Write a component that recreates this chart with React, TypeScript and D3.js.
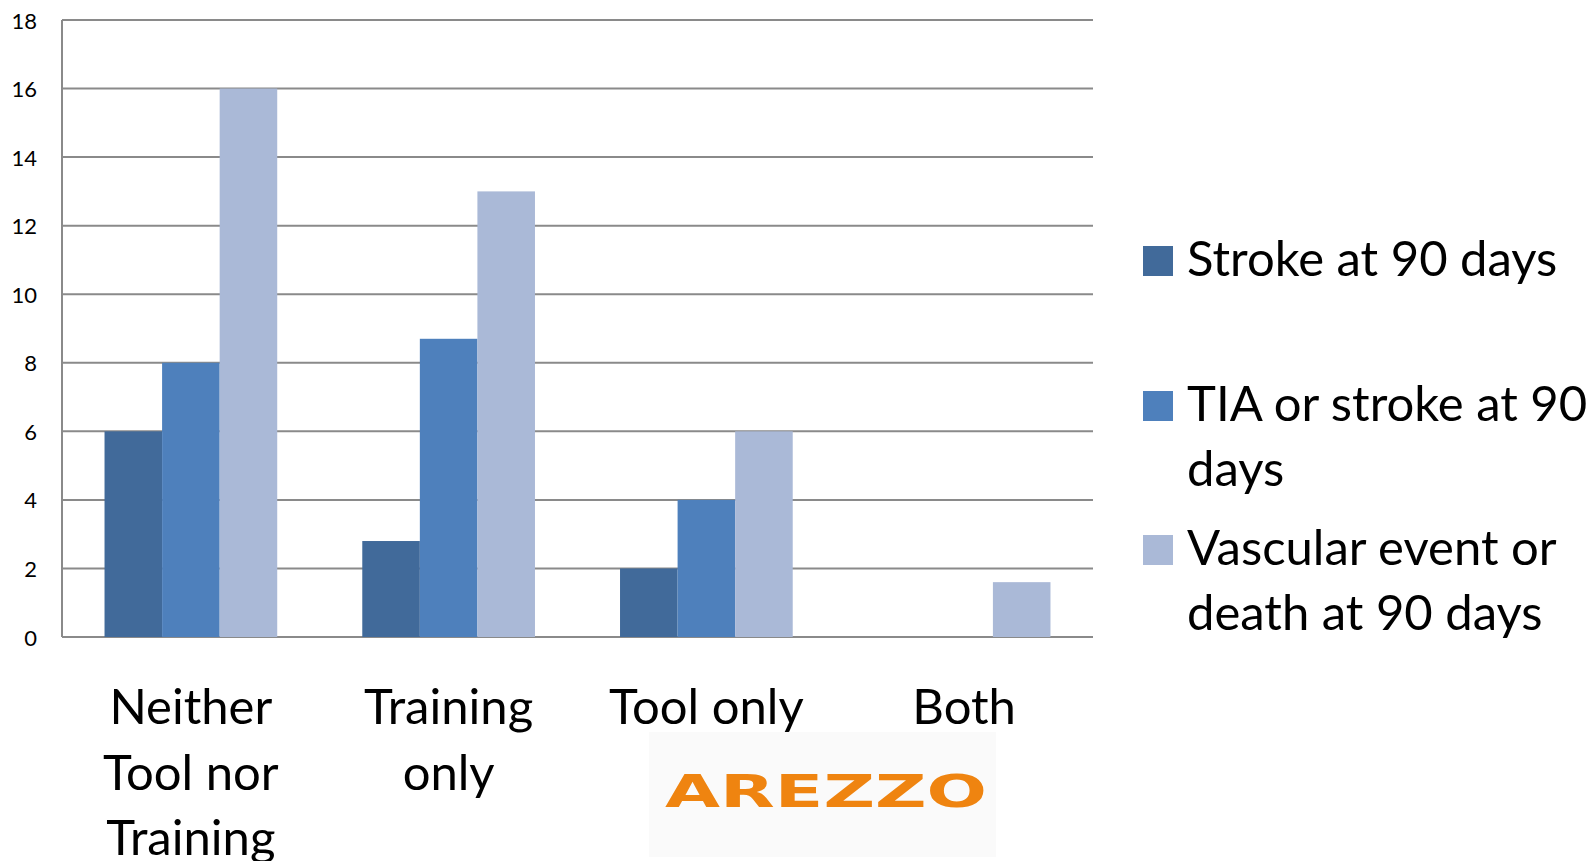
import * as d3 from 'd3'

const categories = [
  ['Neither', 'Tool nor', 'Training'],
  ['Training', 'only'],
  ['Tool only'],
  ['Both'],
]
const seriesNames = [
  ['Stroke at 90 days'],
  ['TIA or stroke at 90', 'days'],
  ['Vascular event or', 'death at 90 days'],
]
const strokeValues = [6, 2.8, 2, 0]
const tiaValues = [8, 8.7, 4, 0]
const vascularValues = [16, 13, 6, 1.6]
const yTicks = [0, 2, 4, 6, 8, 10, 12, 14, 16, 18]

const colors = ['#416a9a', '#4e80bc', '#aab9d7']
const font = 'Lato, "Open Sans", sans-serif'

export default function App() {
  const width = 1590
  const height = 861
  const left = 62
  const right = 1093
  const top = 20
  const bottom = 637

  const series = [strokeValues, tiaValues, vascularValues]
  const catKeys = categories.map((c) => c.join(' '))

  const x0 = d3.scaleBand<string>()
    .domain(catKeys)
    .range([left, right])
    .paddingInner(0.33)
    .paddingOuter(0.165)

  const x1 = d3.scaleBand<number>()
    .domain([0, 1, 2])
    .range([0, x0.bandwidth()])

  const y = d3.scaleLinear().domain([0, 18]).range([bottom, top])

  return (
    <svg
      width={width}
      height={height}
      style={{ position: 'absolute', left: 0, top: 0, background: '#fff' }}
      fontFamily={font}
    >
      {/* gridlines */}
      {yTicks.map((t) => (
        <line key={t} x1={left} x2={right} y1={y(t)} y2={y(t)} stroke="#8a8a8a" strokeWidth={2} />
      ))}
      <line x1={left} x2={left} y1={top} y2={bottom} stroke="#8a8a8a" strokeWidth={2} />

      {/* y tick labels */}
      {yTicks.map((t) => (
        <text key={t} x={37} y={y(t)} textAnchor="end" dominantBaseline="central" fontSize={22} fill="#000">
          {t}
        </text>
      ))}

      {/* bars */}
      {series.map((vals, si) =>
        vals.map((v, ci) =>
          v > 0 ? (
            <rect
              key={`${si}-${ci}`}
              x={(x0(catKeys[ci]) ?? 0) + (x1(si) ?? 0)}
              y={y(v)}
              width={x1.bandwidth()}
              height={y(0) - y(v)}
              fill={colors[si]}
            />
          ) : null
        )
      )}

      {/* category labels */}
      {categories.map((lines, ci) => (
        <text
          key={ci}
          x={(x0(catKeys[ci]) ?? 0) + x0.bandwidth() / 2}
          y={724}
          textAnchor="middle"
          fontSize={49}
          fill="#000"
        >
          {lines.map((l, li) => (
            <tspan key={li} x={(x0(catKeys[ci]) ?? 0) + x0.bandwidth() / 2} dy={li === 0 ? 0 : 65.5}>
              {l}
            </tspan>
          ))}
        </text>
      ))}

      {/* legend */}
      {seriesNames.map((lines, si) => {
        const baseY = [276, 421, 565][si]
        return (
          <g key={si}>
            <rect x={1143} y={baseY - 30} width={30} height={30} fill={colors[si]} />
            <text x={1187} y={baseY} fontSize={49} fill="#000">
              {lines.map((l, li) => (
                <tspan key={li} x={1187} dy={li === 0 ? 0 : 64.5}>
                  {l}
                </tspan>
              ))}
            </text>
          </g>
        )
      })}

      {/* logo */}
      <rect x={649} y={732} width={347} height={125} fill="#fafafa" />
      <text
        x={665}
        y={807}
        fontFamily="'DejaVu Sans', sans-serif"
        fontWeight="bold"
        fontSize={44}
        fill="#ef8410"
        textLength={322}
        lengthAdjust="spacingAndGlyphs"
      >
        AREZZO
      </text>
    </svg>
  )
}
